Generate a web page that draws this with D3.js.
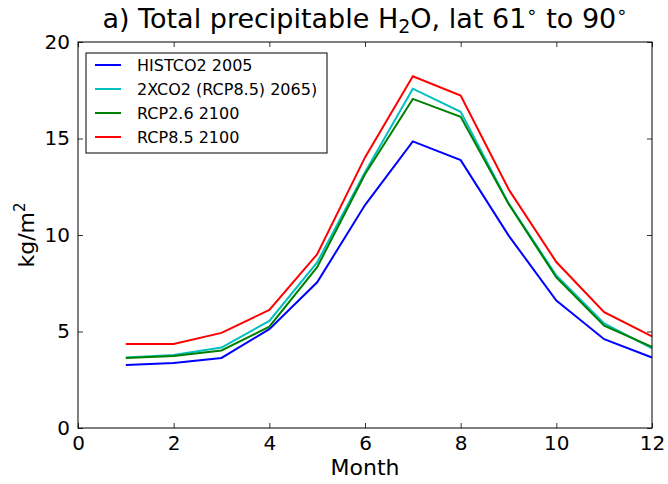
<!DOCTYPE html>
<html>
<head>
<meta charset="utf-8">
<script src="https://d3js.org/d3.v7.min.js"></script>
<style>
  body { margin: 0; background: #fff; }
  svg text { font-family: "DejaVu Sans", sans-serif; fill: #000; }
</style>
</head>
<body>
<svg width="668" height="484"></svg>
<script>
// months and series
var months = [1, 2, 3, 4, 5, 6, 7, 8, 9, 10, 11, 12];
var histco2 = [3.27, 3.37, 3.63, 5.12, 7.55, 11.55, 14.85, 13.88, 9.98, 6.6, 4.6, 3.65];
var x2co2 = [3.65, 3.78, 4.17, 5.55, 8.58, 13.25, 17.58, 16.38, 11.65, 7.9, 5.42, 4.12];
var rcp26 = [3.63, 3.73, 4.02, 5.25, 8.33, 13.15, 17.05, 16.12, 11.62, 7.8, 5.3, 4.2];
var rcp85 = [4.35, 4.35, 4.93, 6.12, 9.0, 14.02, 18.22, 17.22, 12.38, 8.6, 6.0, 4.75];

var seriesNames = ["HISTCO2 2005", "2XCO2 (RCP8.5) 2065)", "RCP2.6 2100", "RCP8.5 2100"];
var seriesColors = ["#0000ff", "#00bfbf", "#008000", "#ff0000"];
var seriesData = [histco2, x2co2, rcp26, rcp85];

var xTicks = [0, 2, 4, 6, 8, 10, 12];
var yTicks = [0, 5, 10, 15, 20];

var svg = d3.select("svg");
var pLeft = 78, pRight = 652, pTop = 42, pBottom = 428;

var x = d3.scaleLinear().domain([0, 12]).range([pLeft, pRight]);
var y = d3.scaleLinear().domain([0, 20]).range([pBottom, pTop]);

var line = d3.line()
  .x((d, i) => x(months[i]))
  .y(d => y(d));

// data lines
seriesData.forEach(function(s, k) {
  svg.append("path")
    .datum(s)
    .attr("fill", "none")
    .attr("stroke", seriesColors[k])
    .attr("stroke-width", 2)
    .attr("d", line);
});

// axes with inward ticks on all four sides
var tickStyle = g => {
  g.select(".domain").remove();
  g.selectAll("line").attr("stroke", "#000").attr("stroke-width", 0.8);
  g.selectAll("text").attr("font-size", 20).attr("font-family", "DejaVu Sans");
};

svg.append("g")
  .attr("transform", `translate(0,${pBottom})`)
  .call(d3.axisBottom(x).tickValues(xTicks).tickSizeInner(-5).tickSizeOuter(0).tickPadding(8))
  .call(tickStyle);

svg.append("g")
  .attr("transform", `translate(0,${pTop})`)
  .call(d3.axisTop(x).tickValues(xTicks).tickSizeInner(-5).tickSizeOuter(0).tickFormat(""))
  .call(tickStyle);

svg.append("g")
  .attr("transform", `translate(${pLeft},0)`)
  .call(d3.axisLeft(y).tickValues(yTicks).tickSizeInner(-5).tickSizeOuter(0).tickPadding(8))
  .call(tickStyle);

svg.append("g")
  .attr("transform", `translate(${pRight},0)`)
  .call(d3.axisRight(y).tickValues(yTicks).tickSizeInner(-5).tickSizeOuter(0).tickFormat(""))
  .call(tickStyle);

svg.append("rect")
  .attr("x", pLeft).attr("y", pTop)
  .attr("width", pRight - pLeft).attr("height", pBottom - pTop)
  .attr("fill", "none").attr("stroke", "#000").attr("stroke-width", 1);

// title
var title = svg.append("text")
  .attr("x", (pLeft + pRight) / 2).attr("y", 28)
  .attr("text-anchor", "middle")
  .attr("font-size", 27);
title.append("tspan").text("a) Total precipitable H");
title.append("tspan").attr("font-size", 19).attr("dy", 5).text("2");
title.append("tspan").attr("dy", -5).text("O, lat 61");
title.append("tspan").attr("font-size", 18).attr("dy", -10).text("\u2218");
title.append("tspan").attr("dy", 10).text(" to 90");
title.append("tspan").attr("font-size", 18).attr("dy", -10).text("\u2218");

// axis labels
svg.append("text")
  .attr("x", (pLeft + pRight) / 2).attr("y", 475)
  .attr("text-anchor", "middle")
  .attr("font-size", 22)
  .text("Month");

var ylab = svg.append("text")
  .attr("transform", `translate(34,${(pTop + pBottom) / 2}) rotate(-90)`)
  .attr("text-anchor", "middle")
  .attr("font-size", 22);
ylab.append("tspan").text("kg/m");
ylab.append("tspan").attr("font-size", 15).attr("dy", -9).text("2");

// legend
var lg = svg.append("g");
lg.append("rect")
  .attr("x", 86).attr("y", 53).attr("width", 241).attr("height", 100)
  .attr("fill", "#fff").attr("stroke", "#000").attr("stroke-width", 1);

seriesNames.forEach(function(name, k) {
  var yy = 65 + k * 24;
  lg.append("line")
    .attr("x1", 95).attr("x2", 121).attr("y1", yy).attr("y2", yy)
    .attr("stroke", seriesColors[k]).attr("stroke-width", 2);
  lg.append("text")
    .attr("x", 137).attr("y", yy + 5.5)
    .attr("font-size", 16)
    .text(name);
});
</script>
</body>
</html>
